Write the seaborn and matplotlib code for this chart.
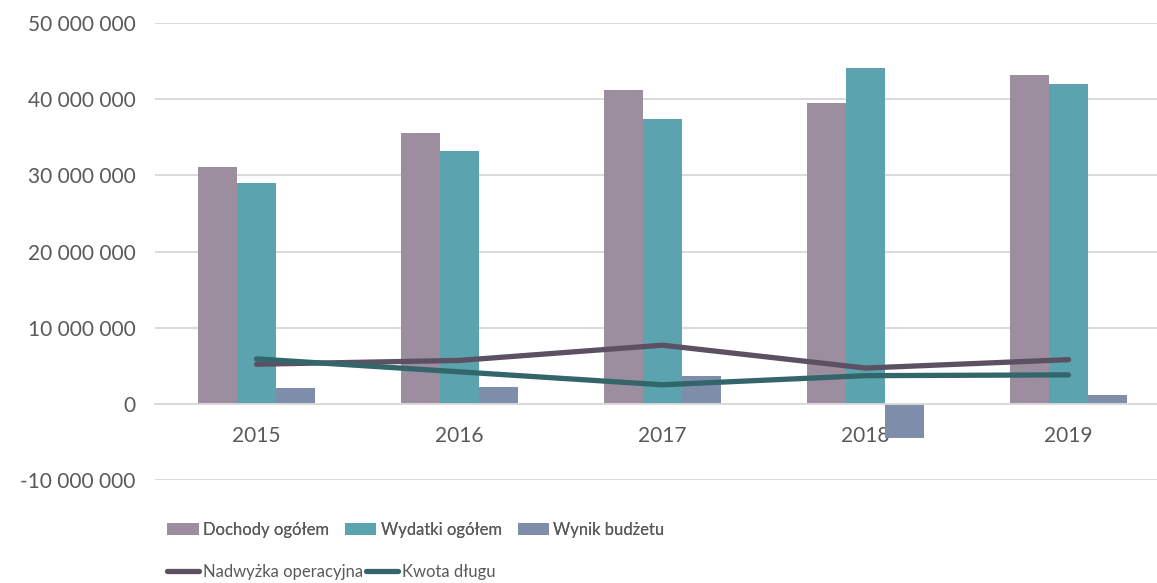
import matplotlib
matplotlib.use('Agg')
import matplotlib.pyplot as plt
import numpy as np
import pandas as pd
import seaborn as sns
from matplotlib.lines import Line2D
from matplotlib.patches import Patch
from matplotlib.ticker import FuncFormatter

# Data
years = ['2015', '2016', '2017', '2018', '2019']
dochody = [31_100_000, 35_600_000, 41_200_000, 39_500_000, 43_200_000]
wydatki = [29_000_000, 33_200_000, 37_400_000, 44_050_000, 42_000_000]
wynik = [2_100_000, 2_250_000, 3_700_000, -4_500_000, 1_200_000]
nadwyzka = [5_200_000, 5_700_000, 7_700_000, 4_700_000, 5_800_000]
dlug = [5_900_000, 4_200_000, 2_500_000, 3_700_000, 3_800_000]

bar_names = ['Dochody ogółem', 'Wydatki ogółem', 'Wynik budżetu']
bar_colors = ['#9D8E9F', '#5BA3AE', '#7E8EAA']
line_names = ['Nadwyżka operacyjna', 'Kwota długu']
line_colors = ['#5C5163', '#33666A']

sns.set_style('white')
plt.rcParams['font.family'] = ['Lato', 'DejaVu Sans']
text_color = '#595959'
grid_color = '#D9D9D9'

df = pd.DataFrame({
    'year': years * 3,
    'series': [bar_names[0]] * 5 + [bar_names[1]] * 5 + [bar_names[2]] * 5,
    'value': dochody + wydatki + wynik,
})

fig = plt.figure(figsize=(11.57, 5.83), dpi=100)
ax = fig.add_axes([155 / 1157, 1 - 480 / 583, 1 - 155 / 1157, (480 - 23) / 583])

sns.barplot(data=df, x='year', y='value', hue='series', order=years,
            hue_order=bar_names, palette=bar_colors, width=0.575,
            saturation=1, linewidth=0, errorbar=None, legend=False, ax=ax,
            zorder=2)

xpos = np.arange(len(years))
for vals, col in zip([nadwyzka, dlug], line_colors):
    ax.plot(xpos, vals, color=col, lw=3.8, solid_capstyle='round',
            solid_joinstyle='round', zorder=4)

ax.set_xlim(-0.5, -0.5 + (1157 - 155) / 203)
ax.set_ylim(-10_000_000, 50_000_000)
ax.set_yticks(np.arange(-10_000_000, 50_000_001, 10_000_000))
ax.yaxis.set_major_formatter(FuncFormatter(lambda v, p: f'{v:,.0f}'.replace(',', ' ')))
ax.grid(axis='y', color=grid_color, lw=1.4, zorder=0)
ax.set_axisbelow(True)
for s in ['top', 'right', 'left']:
    ax.spines[s].set_visible(False)
ax.spines['bottom'].set_position(('data', 0))
ax.spines['bottom'].set_color(grid_color)
ax.spines['bottom'].set_linewidth(1.4)
ax.tick_params(axis='y', length=0, pad=14, labelsize=15, labelcolor=text_color)
ax.tick_params(axis='x', length=0, pad=16, labelsize=15, labelcolor=text_color)
ax.set_xlabel('')
ax.set_ylabel('')

# legend row 1 (bars)
h1 = [Patch(color=c, lw=0) for c in bar_colors]
leg1 = fig.legend(h1, bar_names, loc='center left', ncol=3,
                  bbox_to_anchor=(167 / 1157, 1 - 530 / 583), frameon=False,
                  fontsize=12, borderpad=0, borderaxespad=0, handlelength=1.9,
                  handletextpad=0.25, columnspacing=0.95, labelcolor=text_color)
fig.add_artist(leg1)
# legend row 2 (lines)
h2 = [Line2D([], [], color=c, lw=3.8, solid_capstyle='round') for c in line_colors]
fig.legend(h2, line_names, loc='center left', ncol=2,
           bbox_to_anchor=(167 / 1157, 1 - 572 / 583), frameon=False,
           fontsize=12, borderpad=0, borderaxespad=0, handlelength=1.9,
           handletextpad=0.25, columnspacing=0.2, labelcolor=text_color)

fig.savefig('out.png', dpi=100)
